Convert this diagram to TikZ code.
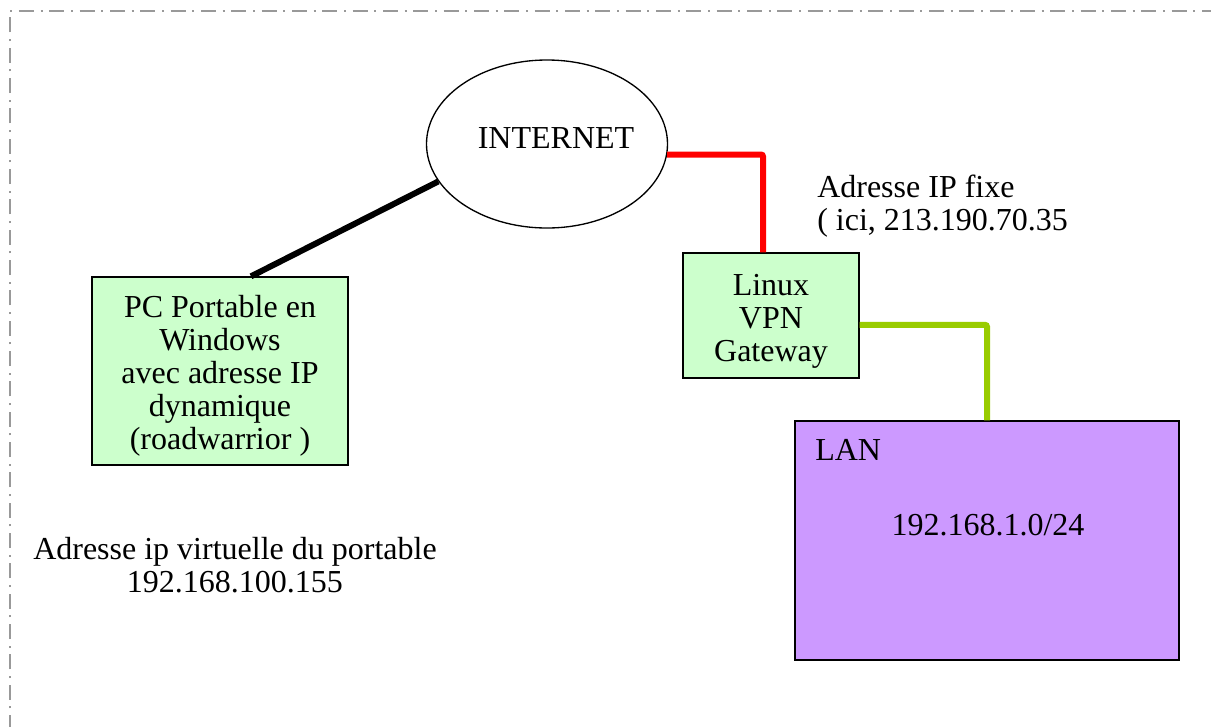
\documentclass[tikz,border=0pt]{standalone}
\usepackage{fontspec}
\setmainfont{Liberation Serif}
\usetikzlibrary{shapes.geometric,calc}
\definecolor{boxgreen}{HTML}{CCFFCC}
\definecolor{lanpurple}{HTML}{CC99FF}
\definecolor{linkred}{HTML}{FF0000}
\definecolor{linkgreen}{HTML}{99CC00}
\definecolor{framegray}{HTML}{999999}
\tikzset{
  px/.style={x=0.75pt,y=-0.75pt},
  txt/.style={font=\fontsize{24}{24.75}\selectfont, inner sep=0pt, align=center},
  greenbox/.style={draw=black, line width=1pt, fill=boxgreen, inner sep=0pt},
  cloud/.style={ellipse, draw=black, line width=1pt, inner sep=0pt},
  link/.style={line width=4.5pt, rounded corners=1.5pt},
}
\begin{document}
\begin{tikzpicture}[px]
\useasboundingbox (0,0) rectangle (1211,726);
% frame
\draw[framegray, line width=1pt, dash pattern=on 11.25pt off 5pt on 1.5pt off 5pt] (10,730) -- (10,11) -- (1215,11);
% internet
\node[cloud, minimum width=241*0.75pt, minimum height=168*0.75pt] (inet) at (547,144) {};
\node[txt] (inettxt) at (556,138) {INTERNET};
% PC
\node[greenbox, minimum width=256*0.75pt, minimum height=188*0.75pt] (pc) at (220,371) {};
\node[txt] (pctxt) at (220,376) {PC Portable en\\Windows\\avec adresse IP\\dynamique\\(roadwarrior )};
% Gateway
\node[greenbox, minimum width=176*0.75pt, minimum height=125*0.75pt] (gw) at (771,315.5) {};
\node[txt] (gwtxt) at (771,321) {Linux\\VPN\\Gateway};
% LAN
\node[draw=black, line width=1pt, fill=lanpurple, minimum width=384*0.75pt, minimum height=239*0.75pt, inner sep=0pt] (lan) at (987,540.5) {};
\node[txt, anchor=west] (lantxt) at (815,450) {LAN};
\node[txt] (lannet) at (988,525) {192.168.1.0/24};
% labels
\node[txt, align=left, anchor=west] (fixe) at (817,206.5) {Adresse IP fixe\\( ici, 213.190.70.35};
\node[txt] (virt) at (235,565) {Adresse ip virtuelle du portable\\192.168.100.155};
% links
\draw[link, black] ([xshift=23.25pt]pc.north) -- (inet.199);
\draw[link, linkred] (inet.-5) -| ([xshift=-6pt]gw.north);
\draw[link, linkgreen] ([yshift=-7pt]gw.east) -| (lan.north);
\end{tikzpicture}
\end{document}
